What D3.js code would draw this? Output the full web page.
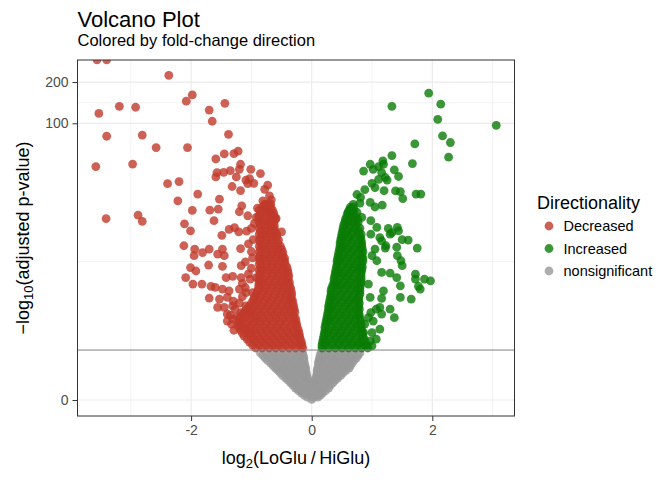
<!DOCTYPE html>
<html>
<head>
<meta charset="utf-8">
<script src="https://cdn.jsdelivr.net/npm/d3@7"></script>
<style>
body { margin: 0; background: #fff; }
text { font-family: "Liberation Sans", Arial, Helvetica, sans-serif; }
</style>
</head>
<body>
<svg id="chart" width="672" height="480"></svg>
<script>
// log2 fold change, -log10(adjusted p)
var decreasedScatter = [[-3.56,290],[-3.40,290],[-2.37,224],[-1.98,161],[-2.08,145],[-3.19,133],[-2.92,131],[-3.53,118],
  [-1.70,125],[-1.44,140],[-1.65,103.5],[-3.40,80.4],[-2.81,82],[-2.58,66.4],[-2.06,66.4],[-1.38,83.1],[-1.59,54.7],
  [-1.45,59.6],[-1.29,60],[-1.22,62.4],[-3.58,48.1],[-2.97,50.2],[-1.18,50],[-1.20,45.9],[-1.01,45.9],[-1.57,43.4],
  [-1.46,43.6],[-1.35,44.9],[-1.59,40.3],[-1.25,40.3],[-0.85,42.7],[-1.09,38.1],[-1.03,39.2],[-0.96,36.1],[-1.06,35.9],
  [-0.73,35.0],[-0.78,32.6],[-2.39,35.9],[-2.20,37.2],[-1.32,34.2],[-1.18,31.9],[-1.89,30.0],[-1.53,27.5],[-0.70,29.1],
  [-0.67,27.2],[-0.81,26.7],[-2.22,26.7],[-1.16,24.5],[-1.20,22.1],[-1.55,23.1],[-1.69,22.7],[-1.98,22.6],[-1.06,20.6],
  [-0.90,23.5],[-0.76,24.7],[-3.41,19.6],[-2.88,20.8],[-2.81,18.7],[-2.11,17.9],[-1.62,18.9],[-0.92,20.0],[-2.01,15.8],
  [-1.49,14.6],[-1.37,16.2],[-1.28,16.7],[-1.21,15.5],[-1.08,15.7],[-0.50,15.5],[-0.59,19.7],[-2.12,12.1],[-1.94,11.4],
  [-1.95,10.1],[-1.81,10.7],[-1.70,11.4],[-1.56,10.4],[-1.48,11.4],[-1.45,10.1],[-1.18,11.5],[-1.00,10.9],[-1.71,8.5],
  [-1.48,8.3],[-1.17,8.4],[-2.01,8.1],[-1.92,7.6],[-2.09,6.7],[-1.97,5.91],[-1.82,5.91],[-1.42,6.7],[-1.31,6.85],
  [-1.17,6.7],[-1.02,6.5],[-0.92,6.7],[-1.67,5.65],[-1.60,5.55],[-1.48,5.36],[-1.70,4.47],[-1.37,5.18],[-1.20,5.36],
  [-1.09,5.0],[-0.98,5.0],[-1.53,4.38],[-1.40,4.53],[-1.56,3.68],[-1.45,3.68],[-1.31,3.81],[-1.17,3.3],[-1.03,3.3],
  [-1.09,3.81],[-1.40,3.19],[-1.31,2.86],[-1.23,2.45],[-1.09,2.26],[-1.00,2.08],
  [-1.40,2.73],[-1.33,2.55],[-1.29,2.2],[-1.35,3.12],[-1.27,3.55],[-1.20,4.04],[-1.15,4.6],[-1.30,4.2],[-1.24,3.0],
  [-1.10,5.5],[-1.15,6.0],[-1.05,7.2],[-1.00,8.0],[-1.10,9.0],[-0.98,9.7],[-1.05,12.5],[-0.97,13.5],[-1.00,16.5],[-0.95,18.0]];

// dense core, one row per -log10 p level: [value, [fold changes]]
var decreasedRows = [
  [1.38, [-0.93,-0.82,-0.71,-0.60,-0.49,-0.38,-0.27,-0.15]],
  [1.50, [-0.98,-0.87,-0.76,-0.65,-0.54,-0.43,-0.32,-0.21,-0.16]],
  [1.63, [-1.03,-0.92,-0.81,-0.70,-0.59,-0.48,-0.37,-0.26,-0.17]],
  [1.76, [-1.07,-0.96,-0.85,-0.74,-0.63,-0.52,-0.41,-0.30,-0.19]],
  [1.90, [-1.12,-1.01,-0.90,-0.79,-0.68,-0.57,-0.46,-0.35,-0.24,-0.20]],
  [2.05, [-1.15,-1.04,-0.93,-0.82,-0.71,-0.60,-0.49,-0.38,-0.27,-0.21]],
  [2.20, [-1.18,-1.07,-0.96,-0.85,-0.74,-0.63,-0.52,-0.41,-0.30,-0.22]],
  [2.37, [-1.19,-1.13,-1.02,-0.91,-0.80,-0.69,-0.58,-0.47,-0.36,-0.24]],
  [2.55, [-1.20,-1.09,-0.98,-0.87,-0.76,-0.65,-0.54,-0.43,-0.32,-0.25]],
  [2.73, [-1.20,-1.15,-1.04,-0.94,-0.86,-0.75,-0.64,-0.53,-0.42,-0.31,-0.26]],
  [2.92, [-1.20,-1.10,-1.00,-0.92,-0.81,-0.70,-0.59,-0.48,-0.37,-0.27]],
  [3.12, [-1.16,-1.06,-0.95,-0.84,-0.73,-0.62,-0.51,-0.40,-0.30]],
  [3.33, [-1.12,-1.01,-0.90,-0.79,-0.68,-0.57,-0.46,-0.35,-0.28]],
  [3.55, [-1.08,-0.99,-0.89,-0.78,-0.67,-0.56,-0.45,-0.35,-0.29]],
  [3.78, [-1.03,-0.95,-0.84,-0.73,-0.62,-0.51,-0.40,-0.30]],
  [4.04, [-1.00,-0.92,-0.81,-0.70,-0.59,-0.48,-0.38,-0.31]],
  [4.29, [-0.97,-0.89,-0.78,-0.67,-0.56,-0.45,-0.36,-0.32]],
  [4.57, [-0.95,-0.86,-0.75,-0.64,-0.53,-0.43,-0.34]],
  [4.85, [-0.92,-0.83,-0.72,-0.61,-0.50,-0.41,-0.33]],
  [5.16, [-0.90,-0.80,-0.70,-0.59,-0.48,-0.40,-0.34]],
  [5.47, [-0.88,-0.78,-0.67,-0.56,-0.46,-0.35]],
  [5.80, [-0.88,-0.78,-0.67,-0.56,-0.46,-0.37]],
  [6.15, [-0.87,-0.83,-0.72,-0.61,-0.50,-0.42,-0.37]],
  [6.51, [-0.87,-0.80,-0.69,-0.58,-0.48,-0.39]],
  [6.90, [-0.87,-0.77,-0.66,-0.56,-0.46,-0.38]],
  [7.30, [-0.86,-0.76,-0.66,-0.55,-0.45,-0.39]],
  [7.72, [-0.87,-0.82,-0.71,-0.60,-0.50,-0.40]],
  [8.17, [-0.85,-0.77,-0.66,-0.56,-0.47,-0.41]],
  [8.64, [-0.87,-0.76,-0.65,-0.54,-0.44]],
  [9.14, [-0.86,-0.76,-0.65,-0.54,-0.45]],
  [9.66, [-0.87,-0.81,-0.70,-0.59,-0.49,-0.45]],
  [10.2, [-0.86,-0.76,-0.66,-0.57,-0.48]],
  [10.8, [-0.87,-0.76,-0.65,-0.55,-0.48]],
  [11.4, [-0.85,-0.76,-0.66,-0.56,-0.50]],
  [12.0, [-0.87,-0.81,-0.70,-0.60,-0.52]],
  [12.7, [-0.85,-0.76,-0.66,-0.56]],
  [13.4, [-0.87,-0.76,-0.66,-0.55]],
  [14.1, [-0.85,-0.76,-0.66,-0.58]],
  [14.9, [-0.87,-0.81,-0.70,-0.60,-0.58]],
  [15.7, [-0.85,-0.76,-0.68,-0.61]],
  [16.6, [-0.87,-0.76,-0.66,-0.62]],
  [17.5, [-0.85,-0.76,-0.68,-0.62]],
  [18.4, [-0.87,-0.81,-0.71,-0.63]],
  [19.4, [-0.86,-0.76,-0.67,-0.60]],
  [20.4, [-0.88,-0.77,-0.68,-0.62]],
  [21.6, [-0.85,-0.76,-0.69,-0.63]],
  [22.7, [-0.87,-0.80,-0.72,-0.65]],
  [23.9, [-0.82,-0.75,-0.68]],
  [25.2, [-0.78,-0.72,-0.68]]
];

var increasedScatter = [[1.94,166],[2.14,138],[1.33,133],[2.09,107],[3.06,96.7],[2.17,80.8],[2.30,72.3],[1.71,70.6],
  [2.27,56.4],[1.33,58],[1.67,50.6],[1.18,52.9],[1.11,48.1],[0.97,50],[0.86,44.5],[1.02,45.9],[1.16,43.4],[1.37,45.5],
  [1.44,40.6],[1.22,39.9],[1.25,38.2],[1.00,36.1],[1.05,33.6],[0.88,32.4],[0.75,29.8],[1.20,31.8],[1.39,31.7],[1.47,31.3],
  [1.51,27.8],[1.73,30],[1.81,30],[0.69,25.1],[0.80,25.7],[0.97,26],[1.17,24.8],[1.05,24],[0.60,21.8],[0.75,21.9],
  [0.83,20.0],[0.98,18.9],[1.08,16.8],[0.98,14.9],[1.27,16.5],[1.42,16.8],[1.30,14.9],[1.33,15.3],[1.44,15.8],[1.13,14.0],
  [1.50,13.5],[1.60,13.4],[1.16,13.2],[1.23,12.1],[1.22,11.6],[1.41,11.8],[1.75,11.6],[1.05,11.4],[1.00,10.1],[1.08,9.2],
  [1.42,10.1],[1.48,9.2],[1.50,8.4],[1.16,7.4],[1.30,7.3],[1.41,6.7],[1.72,7.16],[1.72,6.51],[1.77,5.65],[1.87,6.51],
  [1.97,6.3],[1.80,5.36],[0.94,5.91],[1.19,5.18],[1.16,4.44],[1.47,5.72],[1.47,4.53],[1.65,4.38],[0.97,4.53],[1.13,3.68],
  [1.07,3.55],[0.98,3.3],[1.30,3.55],[1.37,2.95],[1.16,3.19],[0.94,2.95],[1.02,2.73],[0.88,2.55],[1.13,2.26],[1.00,2.08],
  [0.86,2.08],[0.83,1.6],[0.97,1.67],[1.07,1.76],[1.00,1.47],[1.19,50],[1.11,38.7],[0.81,28.4],[0.66,23.4]];

var increasedRows = [
  [1.38, [0.17,0.28,0.39,0.50,0.61,0.72,0.83,0.93]],
  [1.50, [0.17,0.22,0.33,0.44,0.55,0.66,0.77,0.88,0.91]],
  [1.63, [0.18,0.23,0.34,0.45,0.56,0.67,0.78,0.88]],
  [1.76, [0.19,0.29,0.40,0.51,0.62,0.73,0.84,0.87]],
  [1.90, [0.20,0.31,0.42,0.53,0.64,0.75,0.85]],
  [2.05, [0.21,0.26,0.36,0.47,0.58,0.69,0.80,0.84]],
  [2.20, [0.22,0.27,0.38,0.49,0.60,0.71,0.83]],
  [2.37, [0.22,0.32,0.43,0.54,0.65,0.76,0.82]],
  [2.55, [0.23,0.33,0.44,0.55,0.66,0.77,0.82]],
  [2.73, [0.24,0.28,0.38,0.49,0.60,0.71,0.81]],
  [2.92, [0.25,0.30,0.41,0.52,0.63,0.74,0.80]],
  [3.12, [0.26,0.35,0.46,0.57,0.68,0.79]],
  [3.33, [0.27,0.36,0.47,0.58,0.69,0.78]],
  [3.55, [0.28,0.31,0.41,0.52,0.63,0.74,0.79]],
  [3.78, [0.28,0.33,0.44,0.55,0.66,0.78]],
  [4.04, [0.29,0.38,0.49,0.60,0.71,0.79]],
  [4.29, [0.30,0.40,0.51,0.62,0.73,0.78]],
  [4.57, [0.31,0.35,0.45,0.56,0.67,0.78]],
  [4.85, [0.32,0.37,0.48,0.59,0.70,0.80]],
  [5.16, [0.32,0.42,0.53,0.64,0.75,0.80]],
  [5.47, [0.33,0.43,0.54,0.65,0.76,0.80]],
  [5.80, [0.35,0.40,0.48,0.59,0.70,0.81]],
  [6.15, [0.37,0.42,0.53,0.64,0.75,0.82]],
  [6.51, [0.37,0.46,0.57,0.68,0.78,0.82]],
  [6.90, [0.38,0.48,0.59,0.70,0.82]],
  [7.30, [0.39,0.43,0.51,0.62,0.73,0.82]],
  [7.72, [0.40,0.45,0.56,0.67,0.78,0.83]],
  [8.17, [0.41,0.49,0.60,0.70,0.80,0.84]],
  [8.64, [0.42,0.51,0.62,0.73,0.83]],
  [9.14, [0.42,0.46,0.56,0.67,0.76,0.85]],
  [9.66, [0.43,0.48,0.59,0.70,0.81,0.85]],
  [10.2, [0.44,0.51,0.62,0.73,0.83]],
  [10.8, [0.45,0.54,0.65,0.76,0.85]],
  [11.4, [0.46,0.50,0.59,0.70,0.80,0.84]],
  [12.0, [0.47,0.52,0.63,0.74,0.83]],
  [12.7, [0.47,0.55,0.66,0.77,0.83]],
  [13.4, [0.48,0.58,0.69,0.82]],
  [14.1, [0.49,0.53,0.62,0.72,0.81]],
  [14.9, [0.50,0.55,0.66,0.77,0.82]],
  [15.7, [0.51,0.58,0.68,0.78]],
  [16.6, [0.52,0.62,0.72,0.80]],
  [17.5, [0.53,0.63,0.74]],
  [18.4, [0.55,0.60,0.70,0.77]],
  [19.4, [0.56,0.62,0.70,0.76]],
  [20.4, [0.58,0.66,0.73]],
  [21.6, [0.60,0.68]],
  [22.7, [0.62,0.70]],
  [23.9, [0.64,0.69]]
];

var nonsigRows = [
  [1.19, [-0.85,-0.74,-0.63,-0.52,-0.41,-0.30,-0.19,-0.15,0.15,0.26,0.37,0.48,0.59,0.70,0.80]],
  [1.10, [-0.81,-0.69,-0.58,-0.47,-0.36,-0.25,-0.14,0.14,0.21,0.32,0.43,0.54,0.65,0.77]],
  [1.01, [-0.77,-0.68,-0.57,-0.46,-0.35,-0.24,-0.13,0.13,0.20,0.31,0.42,0.53,0.64,0.74]],
  [0.93, [-0.73,-0.62,-0.51,-0.40,-0.29,-0.18,-0.13,0.12,0.25,0.36,0.47,0.58,0.70]],
  [0.85, [-0.68,-0.63,-0.52,-0.41,-0.30,-0.19,-0.12,0.11,0.15,0.26,0.37,0.48,0.59,0.67]],
  [0.77, [-0.64,-0.57,-0.46,-0.35,-0.24,-0.11,0.11,0.20,0.31,0.42,0.53,0.64]],
  [0.70, [-0.60,-0.57,-0.46,-0.35,-0.24,-0.15,-0.10,0.10,0.20,0.31,0.42,0.53,0.62]],
  [0.64, [-0.56,-0.46,-0.35,-0.24,-0.14,-0.10,0.09,0.15,0.26,0.37,0.48,0.57]],
  [0.57, [-0.52,-0.41,-0.30,-0.19,-0.09,0.09,0.15,0.26,0.37,0.47,0.52]],
  [0.50, [-0.48,-0.36,-0.25,-0.14,-0.08,0.08,0.20,0.31,0.42,0.48]],
  [0.44, [-0.43,-0.35,-0.24,-0.13,-0.07,0.07,0.20,0.31,0.43]],
  [0.39, [-0.39,-0.30,-0.19,-0.10,-0.06,0.06,0.09,0.19,0.30,0.39]],
  [0.33, [-0.35,-0.30,-0.19,-0.08,-0.05,0.05,0.14,0.25,0.35]],
  [0.28, [-0.31,-0.24,-0.13,-0.02,0.03,0.09,0.20,0.31]],
  [0.22, [-0.27,-0.24,-0.13,-0.02,0.09,0.20,0.28]],
  [0.17, [-0.22,-0.18,-0.07,0.04,0.15,0.23]],
  [0.12, [-0.17,-0.07,0.04,0.15,0.18]],
  [0.08, [-0.12,-0.02,0.08,0.14]],
  [0.05, [-0.07,0.02,0.10]],
  [0.01, [0.00]]
];

var groups = ["Decreased", "Increased", "nonsignificant"];
var groupColors = ["#c0392b", "#0a7c05", "#999999"];
var xTicks = [-2, 0, 2];
var xMinor = [-3, -1, 1, 3];
var yTicks = [0, 100, 200];
var threshold = -Math.log10(0.05);

function unrow(rows) {
  return rows.flatMap(function(r) { return r[1].map(function(fc) { return [fc, r[0]]; }); });
}

var points = [];
unrow(nonsigRows).forEach(function(p) { points.push({fc: p[0], p: p[1], g: "nonsignificant"}); });
decreasedScatter.concat(unrow(decreasedRows)).forEach(function(p) { points.push({fc: p[0], p: p[1], g: "Decreased"}); });
increasedScatter.concat(unrow(increasedRows)).forEach(function(p) { points.push({fc: p[0], p: p[1], g: "Increased"}); });

var color = d3.scaleOrdinal().domain(groups).range(groupColors);

var panel = {left: 77.5, right: 514.5, top: 60, bottom: 416};

var x = d3.scaleLinear().domain([-3.884, 3.363]).range([panel.left, panel.right]);
// y axis is log10(1 + value), so feed the log scale 1 + value
var y = d3.scaleLog().domain([0.7657, 290.3]).range([panel.bottom, panel.top]);
function yv(v) { return y(1 + v); }

var svg = d3.select("#chart");

svg.append("defs").append("clipPath").attr("id", "panel-clip")
  .append("rect")
  .attr("x", panel.left).attr("y", panel.top)
  .attr("width", panel.right - panel.left).attr("height", panel.bottom - panel.top);

// grid
var yMinor = d3.pairs(yTicks).map(function(d) { return Math.sqrt((1 + d[0]) * (1 + d[1])) - 1; });
var grid = svg.append("g");
grid.selectAll(".xminor").data(xMinor).enter().append("line")
  .attr("x1", function(d) { return x(d); }).attr("x2", function(d) { return x(d); })
  .attr("y1", panel.top).attr("y2", panel.bottom)
  .style("stroke", "#ebebeb").style("stroke-width", 0.6);
grid.selectAll(".yminor").data(yMinor).enter().append("line")
  .attr("y1", function(d) { return yv(d); }).attr("y2", function(d) { return yv(d); })
  .attr("x1", panel.left).attr("x2", panel.right)
  .style("stroke", "#ebebeb").style("stroke-width", 0.6);
grid.selectAll(".xmajor").data(xTicks).enter().append("line")
  .attr("x1", function(d) { return x(d); }).attr("x2", function(d) { return x(d); })
  .attr("y1", panel.top).attr("y2", panel.bottom)
  .style("stroke", "#ebebeb").style("stroke-width", 1.2);
grid.selectAll(".ymajor").data(yTicks).enter().append("line")
  .attr("y1", function(d) { return yv(d); }).attr("y2", function(d) { return yv(d); })
  .attr("x1", panel.left).attr("x2", panel.right)
  .style("stroke", "#ebebeb").style("stroke-width", 1.2);

// points
svg.append("g").attr("clip-path", "url(#panel-clip)")
  .selectAll("circle").data(points).enter().append("circle")
  .attr("cx", function(d) { return x(d.fc); })
  .attr("cy", function(d) { return yv(d.p); })
  .attr("r", 4.4)
  .style("fill", function(d) { return color(d.g); })
  .style("fill-opacity", 0.8);

// significance line
svg.append("line")
  .attr("x1", panel.left).attr("x2", panel.right)
  .attr("y1", yv(threshold)).attr("y2", yv(threshold))
  .style("stroke", "#808080").style("stroke-width", 1);

svg.append("rect")
  .attr("x", panel.left).attr("y", panel.top)
  .attr("width", panel.right - panel.left).attr("height", panel.bottom - panel.top)
  .style("fill", "none").style("stroke", "#333").style("stroke-width", 1);

// axes
var xAxis = svg.append("g").attr("transform", "translate(0," + panel.bottom + ")")
  .call(d3.axisBottom(x).tickValues(xTicks).tickFormat(function(d) { return String(d); })
    .tickSize(5).tickSizeOuter(0).tickPadding(4.5));
var yAxis = svg.append("g").attr("transform", "translate(" + panel.left + ",0)")
  .call(d3.axisLeft(y).tickValues(yTicks.map(function(v) { return v + 1; }))
    .tickFormat(function(d) { return String(Math.round(d - 1)); })
    .tickSize(5).tickSizeOuter(0).tickPadding(4));
[xAxis, yAxis].forEach(function(a) {
  a.select(".domain").remove();
  a.selectAll("line").style("stroke", "#333");
  a.selectAll("text").style("fill", "#4d4d4d").style("font-size", "14px")
    .style("font-family", "\"Liberation Sans\", Arial, sans-serif");
});

// titles
svg.append("text").attr("x", 77.5).attr("y", 27)
  .style("font-size", "22px").style("fill", "#000").text("Volcano Plot");
svg.append("text").attr("x", 77.5).attr("y", 45.5)
  .style("font-size", "16.5px").style("fill", "#000").text("Colored by fold-change direction");

var xt = svg.append("text")
  .attr("x", (panel.left + panel.right) / 2).attr("y", 463.5)
  .attr("text-anchor", "middle").style("font-size", "18px").style("fill", "#000");
xt.append("tspan").text("log");
xt.append("tspan").attr("dy", 4).style("font-size", "13px").text("2");
xt.append("tspan").attr("dy", -4).text("(LoGlu\u2009/\u2009HiGlu)");

var yt = svg.append("text")
  .attr("transform", "translate(28.5," + (panel.top + panel.bottom) / 2 + ") rotate(-90)")
  .attr("text-anchor", "middle").style("font-size", "18px").style("fill", "#000");
yt.append("tspan").text("\u2212log");
yt.append("tspan").attr("dy", 4).style("font-size", "13px").text("10");
yt.append("tspan").attr("dy", -4).text("(adjusted p-value)");

// legend
var legend = svg.append("g").attr("transform", "translate(537,0)");
legend.append("text").attr("x", 0).attr("y", 209)
  .style("font-size", "18px").style("fill", "#000").text("Directionality");
var item = legend.selectAll(".item").data(groups).enter().append("g")
  .attr("transform", function(d, i) { return "translate(0," + (226 + i * 22.5) + ")"; });
item.append("circle").attr("cx", 12).attr("cy", 0).attr("r", 4.4)
  .style("fill", function(d) { return color(d); }).style("fill-opacity", 0.8);
item.append("text").attr("x", 26.5).attr("y", 5)
  .style("font-size", "14.5px").style("fill", "#000").text(function(d) { return d; });
</script>
</body>
</html>
